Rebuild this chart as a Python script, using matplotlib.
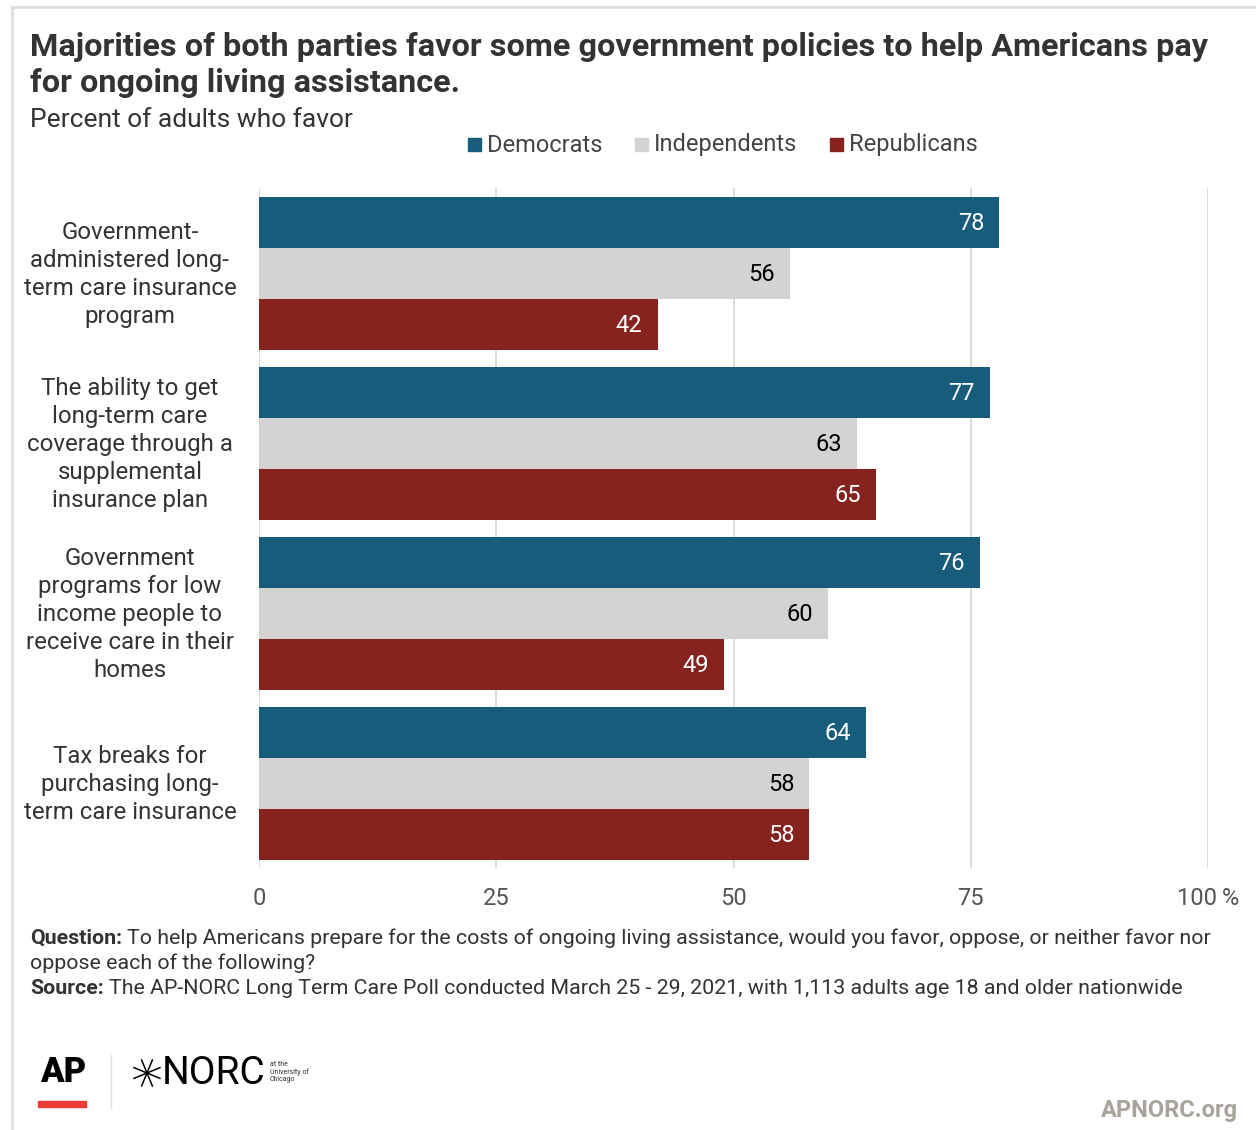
import matplotlib.pyplot as plt
import matplotlib.patches as mpatches
import numpy as np

plt.rcParams['font.family'] = ['Roboto', 'DejaVu Sans']

categories = [
    "Government-\nadministered long-\nterm care insurance\nprogram",
    "The ability to get\nlong-term care\ncoverage through a\nsupplemental\ninsurance plan",
    "Government\nprograms for low\nincome people to\nreceive care in their\nhomes",
    "Tax breaks for\npurchasing long-\nterm care insurance",
]
parties = ["Democrats", "Independents", "Republicans"]
democrats = [78, 77, 76, 64]
independents = [56, 63, 60, 58]
republicans = [42, 65, 49, 58]
ticks = [0, 25, 50, 75, 100]

colors = ["#175c7b", "#d3d3d3", "#86231f"]
label_colors = ["white", "black", "white"]

W, H = 1256, 1130
fig = plt.figure(figsize=(W / 100, H / 100), dpi=100)
fig.patch.set_facecolor('white')

def fx(px):
    return px / W

def fy(py):
    return 1 - py / H

# light frame around the graphic
fig.add_artist(plt.Line2D([fx(12), 1], [fy(7), fy(7)], color='#dedede', lw=2))
fig.add_artist(plt.Line2D([fx(12), fx(12)], [fy(7), 0], color='#dedede', lw=2))

ax = fig.add_axes([fx(259), fy(868), fx(1208) - fx(259), (868 - 188) / H])

y = np.arange(len(categories))
h = 0.3
series = [democrats, independents, republicans]
for k, vals in enumerate(series):
    pos = y + (k - 1) * h
    ax.barh(pos, vals, height=h, color=colors[k], zorder=2)
    for p, v in zip(pos, vals):
        ax.text(v - 1.6, p + 0.01, str(v), ha='right', va='center',
                fontsize=17, color=label_colors[k], zorder=3)

ax.set_xlim(0, 100)
ax.set_ylim(3.5, -0.5)
ax.set_xticks(ticks)
ax.set_xticklabels([str(t) for t in ticks[:-1]] + ["100\u2009%"])
ax.tick_params(axis='x', length=0, pad=14, labelsize=17, labelcolor='#555555')
ax.tick_params(axis='y', length=0)
ax.set_yticks([])
for s in ax.spines.values():
    s.set_visible(False)
for t in ticks:
    ax.axvline(t, color='#d9d9d9', lw=1.3, zorder=1)

for i, c in enumerate(categories):
    ax.text(-13.6, i + 0.01, c, ha='center', va='center', fontsize=17.3,
            color='#333333', linespacing=1.28, transform=ax.transData)

# titles
fig.text(fx(30), fy(32), "Majorities of both parties favor some government policies to help Americans pay\nfor ongoing living assistance.",
         ha='left', va='top', fontsize=23.3, fontweight='bold', color='#333333', linespacing=1.27)
fig.text(fx(30), fy(120), "Percent of adults who favor", ha='left', va='center',
         fontsize=19, color='#333333')

# legend
leg_x = [468, 635, 830]
for lx, name, col in zip(leg_x, parties, colors):
    fig.add_artist(mpatches.Rectangle((fx(lx), fy(151)), 13 / W, 13 / H,
                                      transform=fig.transFigure, color=col))
    fig.text(fx(lx + 19), fy(145), name, ha='left', va='center',
             fontsize=17, color='#444444')

# footer notes with bold lead-ins
renderer = fig.canvas.get_renderer()

def rich_line(x, ypx, bold, rest):
    t = fig.text(fx(x), fy(ypx), bold, ha='left', va='center', fontsize=15.4,
                 fontweight='bold', color='#333333')
    bb = t.get_window_extent(renderer)
    fig.text(bb.x1 / W + fx(5), fy(ypx), rest, ha='left', va='center',
             fontsize=15.4, color='#333333')

rich_line(30, 938, "Question:", "To help Americans prepare for the costs of ongoing living assistance, would you favor, oppose, or neither favor nor")
fig.text(fx(30), fy(963), "oppose each of the following?", ha='left', va='center',
         fontsize=15.4, color='#333333')
rich_line(30, 989, "Source:", "The AP-NORC Long Term Care Poll conducted March 25 - 29, 2021, with 1,113 adults age 18 and older nationwide")

# logos
fig.text(fx(63), fy(1073), "AP", ha='center', va='center', fontsize=25,
         fontweight='black', color='black')
fig.add_artist(mpatches.Rectangle((fx(38), fy(1107)), 48 / W, 6 / H,
                                  transform=fig.transFigure, color='#ef3b36'))
fig.add_artist(plt.Line2D([fx(111), fx(111)], [fy(1055), fy(1108)],
                          color='#e0e0e0', lw=1))
cx, cy, r = 147, 1073, 14
for a in np.deg2rad(np.arange(0, 360, 45) + 22.5):
    fig.add_artist(plt.Line2D([fx(cx), fx(cx + r * np.cos(a))],
                              [fy(cy), fy(cy - r * np.sin(a))], color='black', lw=1.1))
fig.text(fx(162), fy(1073), "NORC", ha='left', va='center', fontsize=28,
         color='black')
fig.text(fx(270), fy(1072), "at the\nUniversity of\nChicago", ha='left', va='center',
         fontsize=5, color='#333333', linespacing=1.1)

fig.text(fx(1238), fy(1110), "APNORC.org", ha='right', va='center', fontsize=17,
         fontweight='bold', color='#a8a49b')

fig.savefig("out.png", dpi=100, facecolor='white')
